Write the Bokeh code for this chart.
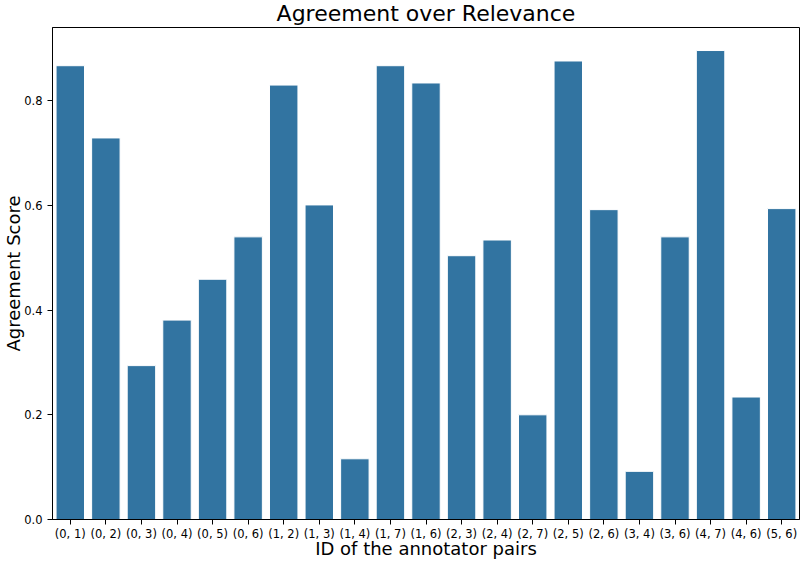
from bokeh.plotting import figure
from bokeh.models import Range1d, FactorRange, FixedTicker, ColumnDataSource, NumeralTickFormatter
from bokeh.embed import file_html
from bokeh.resources import INLINE

pairs = ["(0, 1)", "(0, 2)", "(0, 3)", "(0, 4)", "(0, 5)", "(0, 6)", "(1, 2)",
         "(1, 3)", "(1, 4)", "(1, 7)", "(1, 6)", "(2, 3)", "(2, 4)", "(2, 7)",
         "(2, 5)", "(2, 6)", "(3, 4)", "(3, 6)", "(4, 7)", "(4, 6)", "(5, 6)"]
scores = [0.867, 0.729, 0.294, 0.381, 0.459, 0.540, 0.830,
          0.601, 0.116, 0.867, 0.834, 0.504, 0.534, 0.200,
          0.876, 0.592, 0.092, 0.540, 0.896, 0.234, 0.594]
y_ticks = [0.0, 0.2, 0.4, 0.6, 0.8]

FONT = "DejaVu Sans"
src = ColumnDataSource(dict(pair=pairs, score=scores))

p = figure(x_range=FactorRange(*pairs, range_padding=0), y_range=Range1d(0, 0.94),
           width=801, height=561, output_backend="svg", toolbar_location=None,
           title="Agreement over Relevance",
           min_border_left=50, min_border_right=2, min_border_top=26, min_border_bottom=37)

p.vbar(x="pair", top="score", width=0.8, source=src,
       fill_color="#3274a1", line_color="white", line_width=1)

p.title.text_font = FONT
p.title.text_font_size = "22px"
p.title.text_font_style = "normal"
p.title.align = "center"
p.title.vertical_align = "top"
p.title.text_color = "black"
p.title.standoff = 0
p.title.offset = 0

p.xgrid.visible = False
p.ygrid.visible = False
p.outline_line_color = "black"
p.outline_line_width = 1
p.outline_line_alpha = 1.0

for ax in (p.xaxis[0], p.yaxis[0]):
    ax.axis_line_color = "black"
    ax.major_tick_line_color = "black"
    ax.major_tick_out = 5
    ax.major_tick_in = 0
    ax.minor_tick_line_color = None
    ax.major_label_text_font = FONT
    ax.major_label_text_font_size = "11.5px"
    ax.major_label_text_color = "black"
    ax.axis_label_text_font = FONT
    ax.axis_label_text_font_size = "18px"
    ax.axis_label_text_font_style = "normal"
    ax.axis_label_text_color = "black"

p.yaxis[0].ticker = FixedTicker(ticks=y_ticks)
p.yaxis[0].formatter = NumeralTickFormatter(format="0.0")
p.yaxis[0].axis_label = "Agreement Score"
p.xaxis[0].axis_label = "ID of the annotator pairs"
p.xaxis[0].major_label_standoff = 2
p.yaxis[0].major_label_standoff = 5
p.xaxis[0].axis_label_standoff = -6
p.yaxis[0].axis_label_standoff = -3

open("out.html", "w").write(file_html(p, INLINE))
